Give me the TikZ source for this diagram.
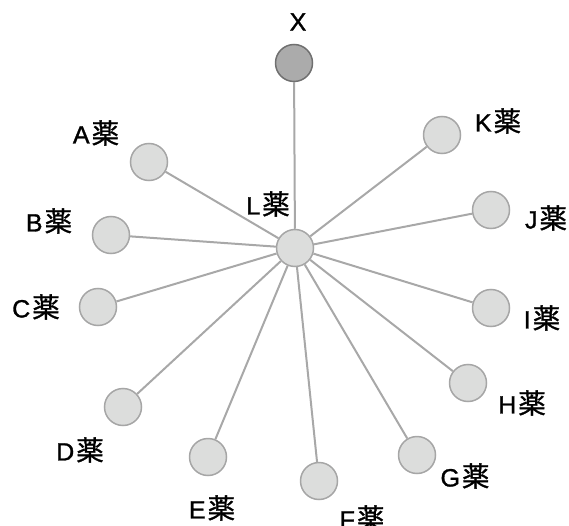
\documentclass[tikz,border=0pt]{standalone}
\usepackage{fontspec}
\setmainfont[FakeBold=1.2]{Liberation Sans}
\newfontfamily\cjk[Scale=1.1,FakeBold=1.2]{Noto Sans CJK JP}
\definecolor{DrugClr}{RGB}{220,221,220}
\definecolor{DrugLine}{RGB}{166,166,166}
\definecolor{XClr}{RGB}{171,171,171}
\definecolor{XLine}{RGB}{112,112,112}
\definecolor{EdgeClr}{RGB}{168,168,168}

\tikzset{
  drug/.style={circle,fill=DrugClr,draw=DrugLine,line width=1.5pt,minimum size=37pt,inner sep=0pt},
  target/.style={drug,fill=XClr,draw=XLine},
  tag/.style={font=\fontsize{25}{28}\selectfont,inner sep=0pt},
  link/.style={draw=EdgeClr,line width=2pt}
}
\newcommand{\yk}[1]{#1\hspace{2pt}{\cjk 薬}}

\begin{document}
\begin{tikzpicture}[x=1pt,y=-1pt]
\useasboundingbox (0,0) rectangle (569,526);

% nodes
\node[target] (X) at (294,63) {};
\node[drug] (L) at (295,248) {};
\node[drug] (A) at (149,162) {};
\node[drug] (B) at (111,235) {};
\node[drug] (C) at (98,307) {};
\node[drug] (D) at (123,407) {};
\node[drug] (E) at (208,457) {};
\node[drug] (F) at (319,481) {};
\node[drug] (G) at (417,455) {};
\node[drug] (H) at (468,383) {};
\node[drug] (I) at (491,308) {};
\node[drug] (J) at (491,210) {};
\node[drug] (K) at (442,135) {};

% edges
\draw[link] (X) -- (L);
\foreach \d in {A,B,C,D,E,F,G,H,I,J,K}
  \draw[link] (L) -- (\d);

% labels
\node[tag] (tX) at (298,22) {X};
\node[tag] (tL) at (268,204) {\yk{L}};
\node[tag] (tA) at (96,133) {\yk{A}};
\node[tag] (tB) at (49,221) {\yk{B}};
\node[tag] (tC) at (36,307) {\yk{C}};
\node[tag] (tD) at (80,450) {\yk{D}};
\node[tag] (tE) at (212,508) {\yk{E}};
\node[tag] (tF) at (362,518) {\yk{F}};
\node[tag] (tG) at (465,476) {\yk{G}};
\node[tag] (tH) at (522,403) {\yk{H}};
\node[tag] (tI) at (542,318) {\yk{I}};
\node[tag] (tJ) at (546,218) {\yk{J}};
\node[tag] (tK) at (498,121) {\yk{K}};

\end{tikzpicture}
\end{document}
